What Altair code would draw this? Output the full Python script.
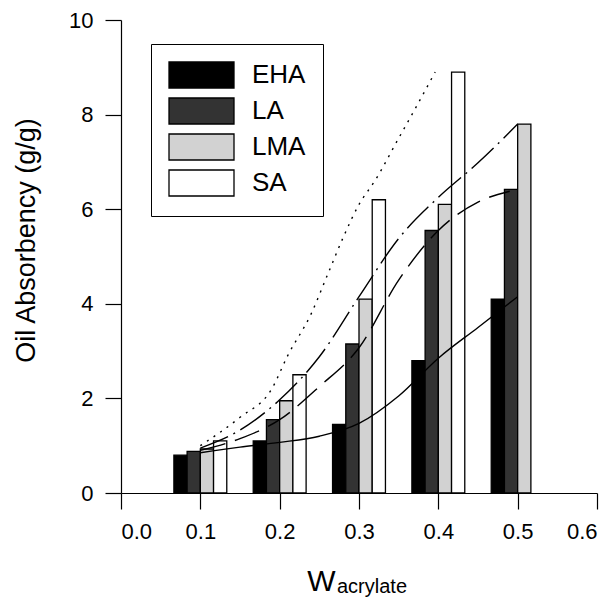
import altair as alt
import pandas as pd

# ---- data ----
w_acrylate = [0.1, 0.2, 0.3, 0.4, 0.5]
series = ["EHA", "LA", "LMA", "SA"]
eha = [0.80, 1.10, 1.45, 2.80, 4.10]
la = [0.88, 1.55, 3.15, 5.55, 6.42]
lma = [0.93, 1.95, 4.10, 6.10, 7.80]
sa = [1.10, 2.50, 6.20, 8.90, None]

# fitted curves
sa_fit_x = [0.10, 0.15, 0.19, 0.21, 0.24, 0.26, 0.28, 0.30, 0.32, 0.35, 0.37, 0.396]
sa_fit_y = [1.00, 1.60, 2.20, 2.90, 3.80, 4.60, 5.40, 6.10, 6.60, 7.50, 8.10, 8.90]
lma_fit_x = [0.10, 0.15, 0.20, 0.25, 0.30, 0.35, 0.40, 0.45, 0.50]
lma_fit_y = [0.95, 1.33, 1.97, 2.88, 4.15, 5.38, 6.25, 6.98, 7.80]
la_fit_x = [0.10, 0.15, 0.20, 0.25, 0.30, 0.35, 0.40, 0.45, 0.49]
la_fit_y = [0.90, 1.15, 1.55, 2.25, 3.07, 4.50, 5.55, 6.15, 6.38]
eha_fit_x = [0.10, 0.15, 0.20, 0.25, 0.30, 0.35, 0.40, 0.45, 0.50]
eha_fit_y = [0.85, 0.97, 1.07, 1.20, 1.47, 2.05, 2.85, 3.50, 4.15]

fills = ["#000000", "#333333", "#d2d2d2", "#ffffff"]
bar_w = 1 / 60

rows = []
for s_i, (name, vals) in enumerate(zip(series, [eha, la, lma, sa])):
    for w, v in zip(w_acrylate, vals):
        if v is not None:
            rows.append({"w": w, "series": name, "idx": s_i, "value": v})
bars_df = pd.DataFrame(rows)

FONT = "Liberation Sans"

x_scale = alt.Scale(domain=[0, 0.6], nice=False, zero=False)
y_scale = alt.Scale(domain=[0, 10], nice=False)

x_axis = alt.Axis(
    values=[0, 0.1, 0.2, 0.3, 0.4, 0.5, 0.6], format=".1f",
    title="W", titleFontSize=30, titleFont=FONT, titleFontWeight="normal",
    titleX=200, titleY=97, titleAlign="center", titleBaseline="alphabetic",
    labelFont=FONT, labelFontSize=22, labelPadding=12, tickSize=16,
    grid=False, domainColor="black", tickColor="black", labelColor="black",
    titleColor="black", domainWidth=1.2, tickWidth=1.2,
)
y_axis = alt.Axis(
    values=[0, 2, 4, 6, 8, 10], title="Oil Absorbency (g/g)",
    titleFontSize=27, titleFont=FONT, titleFontWeight="normal",
    titleAngle=270, titleX=-81, titleY=220, titleAlign="center", titleBaseline="bottom",
    labelFont=FONT, labelFontSize=22, labelPadding=12, tickSize=16,
    grid=False, domainColor="black", tickColor="black", labelColor="black",
    titleColor="black", domainWidth=1.2, tickWidth=1.2,
)

bars = alt.Chart(bars_df).transform_calculate(
    x0=f"datum.w + (datum.idx - 2) * {bar_w}",
    x1=f"datum.w + (datum.idx - 1) * {bar_w}",
).mark_bar(stroke="black", strokeWidth=1.3).encode(
    x=alt.X("x0:Q", scale=x_scale, axis=x_axis),
    x2="x1:Q",
    y=alt.Y("value:Q", scale=y_scale, axis=y_axis),
    y2=alt.datum(0),
    fill=alt.Fill(
        "series:N",
        scale=alt.Scale(domain=series, range=fills),
        legend=alt.Legend(
            title=None, orient="none", legendX=30, legendY=24,
            symbolType="M-1,-1H4V1H-1Z", symbolSize=676,
            symbolStrokeColor="black", symbolStrokeWidth=1.3,
            labelFont=FONT, labelFontSize=26, labelColor="black",
            labelOffset=56, rowPadding=4, padding=17,
            strokeColor="black", fillColor="white",
        ),
    ),
)


def curve(xs, ys, dash):
    df = pd.DataFrame({"x": xs, "y": ys})
    mk = dict(color="black", strokeWidth=1.4, interpolate="monotone")
    if dash:
        mk["strokeDash"] = dash
    return alt.Chart(df).mark_line(**mk).encode(
        x=alt.X("x:Q", scale=x_scale, axis=x_axis),
        y=alt.Y("y:Q", scale=y_scale, axis=y_axis),
    )


lines = [
    curve(sa_fit_x, sa_fit_y, [2, 6]),
    curve(lma_fit_x, lma_fit_y, [30, 6, 2, 6]),
    curve(la_fit_x, la_fit_y, [26, 10]),
    curve(eha_fit_x, eha_fit_y, None),
]

sub = alt.Chart(pd.DataFrame({"t": ["acrylate"]})).mark_text(
    font=FONT, fontSize=20, align="left", baseline="alphabetic", color="black"
).encode(text="t:N", x=alt.value(216), y=alt.value(573))

chart = alt.layer(bars, *lines, sub).properties(
    width=476, height=473,
    autosize=alt.AutoSizeParams(type="none"),
    padding={"left": 113, "top": 12, "right": 8, "bottom": 106},
).configure_view(stroke=None)

chart.save("out.html", embed_options={"renderer": "svg", "actions": False})
